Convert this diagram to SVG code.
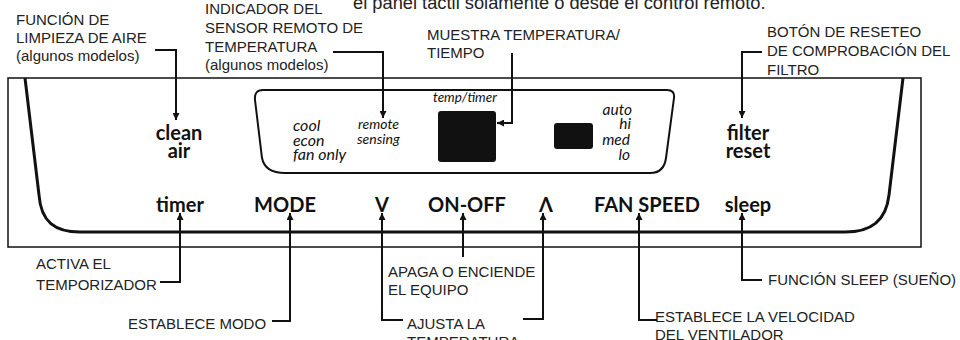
<svg xmlns="http://www.w3.org/2000/svg" width="960" height="340" viewBox="0 0 960 340">
<defs>
<style>
.lbl{font-family:"Liberation Sans",Arial,sans-serif;font-size:15px;fill:#222}
.btn{font-family:Lato,"DejaVu Sans",sans-serif;font-weight:bold;font-size:20px;fill:#111;text-anchor:middle}
.ita{font-family:Lato,"DejaVu Sans",sans-serif;font-style:italic;fill:#111}
.con{fill:none;stroke:#111;stroke-width:2}
</style>
<marker id="ah" viewBox="0 0 10 10" refX="10" refY="5" markerWidth="7" markerHeight="7" markerUnits="userSpaceOnUse" orient="auto">
<path d="M0,0 L10,5 L0,10 Z" fill="#111"/>
</marker>
</defs>
<rect width="960" height="340" fill="#fff"/>

<g id="panel">
<rect x="8" y="78" width="913" height="169" fill="none" stroke="#111" stroke-width="1.5"/>
<path d="M25,78 L39,195 C41,222 55,232 80,232 L845,232 C870,232 886,222 889,195 L903,78" fill="none" stroke="#111" stroke-width="3"/>
</g>

<g id="display">
<path d="M263,90 L667,90 Q675,90 674,98 L666,158 Q664,173 650,173 L285,173 Q265,173 262,158 L255,100 Q254,90 263,90 Z" fill="none" stroke="#111" stroke-width="2"/>
<rect x="438" y="111" width="58" height="51" rx="3" fill="#111"/>
<rect x="554" y="123" width="39" height="26" rx="3" fill="#111"/>
<text class="ita" x="433" y="102" font-size="13.5">temp/timer</text>
<text class="ita" x="293" y="131" font-size="16">cool</text>
<text class="ita" x="293" y="146" font-size="16">econ</text>
<text class="ita" x="293" y="160" font-size="16">fan only</text>
<text class="ita" x="358" y="129" font-size="14">remote</text>
<text class="ita" x="357" y="144" font-size="14">sensing</text>
<g text-anchor="end">
<text class="ita" x="632" y="115" font-size="15.5">auto</text>
<text class="ita" x="631" y="129" font-size="15.5">hi</text>
<text class="ita" x="630" y="145" font-size="15.5">med</text>
<text class="ita" x="630" y="160" font-size="15.5">lo</text>
</g>
</g>

<g id="buttons">
<text class="btn" x="179" y="140">clean</text>
<text class="btn" x="179" y="158">air</text>
<text class="btn" x="748" y="140">filter</text>
<text class="btn" x="748" y="158">reset</text>
<text class="btn" x="180" y="212">timer</text>
<text class="btn" x="285" y="212">MODE</text>
<text class="btn" x="382" y="212">V</text>
<text class="btn" x="467" y="212">ON-OFF</text>
<text class="btn" x="546" y="212">Λ</text>
<text class="btn" x="647" y="212">FAN SPEED</text>
<text class="btn" x="748" y="212">sleep</text>
</g>

<g id="labels">
<text class="lbl" x="353" y="9" style="font-size:18.3px">el panel táctil solamente o desde el control remoto.</text>
<text class="lbl" x="16" y="25">FUNCIÓN DE</text>
<text class="lbl" x="16" y="43">LIMPIEZA DE AIRE</text>
<text class="lbl" x="16" y="61">(algunos modelos)</text>
<text class="lbl" x="205" y="14">INDICADOR DEL</text>
<text class="lbl" x="205" y="33">SENSOR REMOTO DE</text>
<text class="lbl" x="205" y="52">TEMPERATURA</text>
<text class="lbl" x="205" y="70">(algunos modelos)</text>
<text class="lbl" x="427" y="40">MUESTRA TEMPERATURA/</text>
<text class="lbl" x="427" y="58">TIEMPO</text>
<text class="lbl" x="767" y="37">BOTÓN DE RESETEO</text>
<text class="lbl" x="767" y="56">DE COMPROBACIÓN DEL</text>
<text class="lbl" x="767" y="75">FILTRO</text>
<text class="lbl" x="36" y="269">ACTIVA EL</text>
<text class="lbl" x="36" y="290">TEMPORIZADOR</text>
<text class="lbl" x="128" y="329">ESTABLECE MODO</text>
<text class="lbl" x="388" y="277">APAGA O ENCIENDE</text>
<text class="lbl" x="388" y="295">EL EQUIPO</text>
<text class="lbl" x="407" y="329">AJUSTA LA</text>
<text class="lbl" x="407" y="347">TEMPERATURA</text>
<text class="lbl" x="655" y="322">ESTABLECE LA VELOCIDAD</text>
<text class="lbl" x="655" y="340">DEL VENTILADOR</text>
<text class="lbl" x="768" y="285">FUNCIÓN SLEEP (SUEÑO)</text>
</g>

<g id="connectors">
<path class="con" d="M155,50 H176 V120" marker-end="url(#ah)"/>
<path class="con" d="M333,52 H383 V118" marker-end="url(#ah)"/>
<path class="con" d="M512,53 V123 H497" marker-end="url(#ah)"/>
<path class="con" d="M762,52 H742 V118" marker-end="url(#ah)"/>
<path class="con" d="M160,282 H180 V213" marker-end="url(#ah)"/>
<path class="con" d="M272,321 H290 V213" marker-end="url(#ah)"/>
<path class="con" d="M403,320 H382 V213" marker-end="url(#ah)"/>
<path class="con" d="M463,257 V213" marker-end="url(#ah)"/>
<path class="con" d="M523,319 H543 V213" marker-end="url(#ah)"/>
<path class="con" d="M657,320 H639 V213" marker-end="url(#ah)"/>
<path class="con" d="M762,280 H742 V213" marker-end="url(#ah)"/>
</g>
</svg>
